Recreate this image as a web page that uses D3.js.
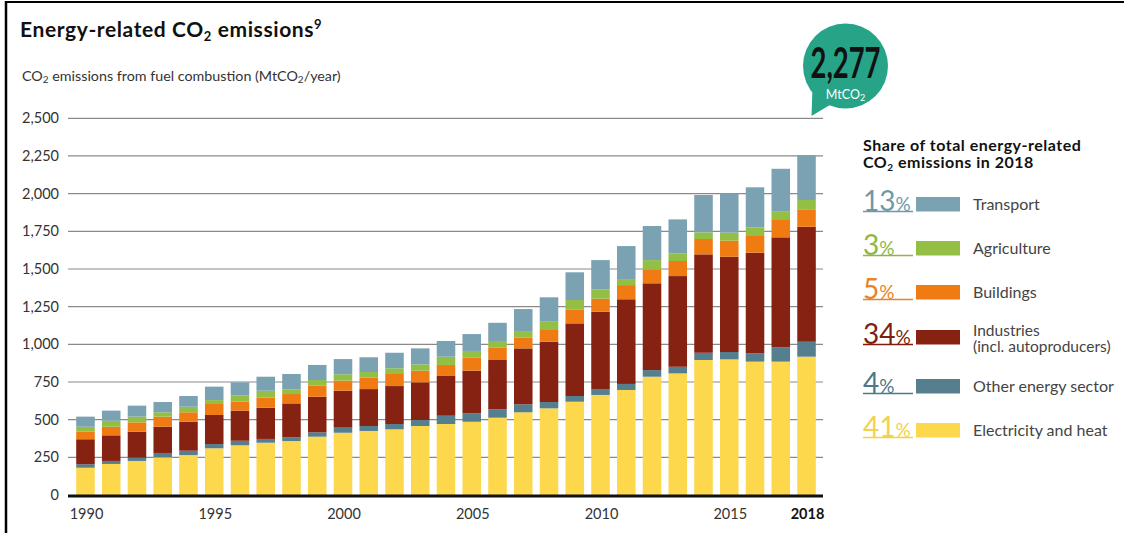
<!DOCTYPE html>
<html>
<head>
<meta charset="utf-8">
<script src="https://cdn.jsdelivr.net/npm/d3@7/dist/d3.min.js"></script>
<style>
  html, body { margin: 0; padding: 0; background: #fff; }
  svg { display: block; }
  text { font-family: "Lato", "Open Sans", "Noto Sans", sans-serif; }
</style>
</head>
<body>
<svg id="chart" width="1124" height="533"></svg>
<script>
// ---------- DATA ----------
const years = [1990,1991,1992,1993,1994,1995,1996,1997,1998,1999,2000,2001,2002,2003,2004,2005,2006,2007,2008,2009,2010,2011,2012,2013,2014,2015,2016,2017,2018];
const electricity = [181,206,226,250,265,310,330,347,358,387,413,425,436,458,471,486,513,549,575,619,664,697,785,807,896,900,885,885,918];
const otherEnergy = [23,20,22,29,29,28,30,25,25,29,34,33,35,40,55,56,56,53,42,38,39,40,44,44,48,49,55,95,99];
const industries  = [166,170,172,174,192,193,200,207,225,236,245,245,252,250,264,283,327,371,400,482,513,562,576,602,653,632,668,730,763];
const buildings   = [50,57,62,67,63,73,59,67,62,73,67,75,80,77,73,86,81,73,78,93,87,94,93,100,102,107,111,115,116];
const agriculture = [33,40,38,29,37,26,43,46,31,38,42,38,38,42,55,45,45,42,55,62,62,40,61,51,44,53,57,55,62];
const transport   = [67,67,73,68,71,89,86,93,102,100,101,98,103,106,104,112,121,146,162,184,194,219,226,225,248,261,266,285,298];

const seriesKeys   = ["electricity","otherEnergy","industries","buildings","agriculture","transport"];
const seriesColors = ["#fdd84c","#557f8e","#862211","#ef7b12","#93bf45","#7aa2b2"];

const yTicks = [0,250,500,750,1000,1250,1500,1750,2000,2250,2500];
const xTickLabels = [1990,1995,2000,2005,2010,2015,2018];

const totalLabel = "2,277";
const legendLabels = [["Transport"],["Agriculture"],["Buildings"],["Industries","(incl. autoproducers)"],["Other energy sector"],["Electricity and heat"]];
const legendShares = [13,3,5,34,4,41];
const legendSeries = ["transport","agriculture","buildings","industries","otherEnergy","electricity"];
const shareColors  = ["#6f99a9","#8cb843","#ea8229","#7b1f10","#4e7787","#f2d24a"];

// ---------- BUILD ----------
const svg = d3.select("#chart");
const table = years.map((y,i) => ({year:y, electricity:electricity[i], otherEnergy:otherEnergy[i], industries:industries[i], buildings:buildings[i], agriculture:agriculture[i], transport:transport[i]}));
const colorOf = d3.scaleOrdinal().domain(seriesKeys).range(seriesColors);

// frame
svg.append("line").attr("x1",6).attr("x2",6).attr("y1",1).attr("y2",533).attr("stroke","#000").attr("stroke-width",2.5);
svg.append("line").attr("x1",5).attr("x2",1124).attr("y1",2).attr("y2",2).attr("stroke","#000").attr("stroke-width",2);

// title
const title = svg.append("text").attr("x",20).attr("y",37).attr("font-size",21).attr("font-weight","bold")
  .attr("letter-spacing",0.6).attr("fill","#111");
title.append("tspan").text("Energy-related CO");
title.append("tspan").text("2").attr("font-size",13).attr("dy",4);
title.append("tspan").text(" emissions").attr("dy",-4);
title.append("tspan").text("9").attr("font-size",13).attr("dy",-8);

const sub = svg.append("text").attr("x",22).attr("y",81).attr("font-size",14.3).attr("fill","#333");
sub.append("tspan").text("CO");
sub.append("tspan").text("2").attr("font-size",10).attr("dy",2);
sub.append("tspan").text(" emissions from fuel combustion (MtCO").attr("dy",-2);
sub.append("tspan").text("2").attr("font-size",10).attr("dy",2);
sub.append("tspan").text("/year)").attr("dy",-2);

// scales
const x = d3.scaleBand().domain(years).range([72.6, 819.4]).paddingInner(0.28).paddingOuter(0.14);
const y = d3.scaleLinear().domain([0,2500]).range([495, 118.3]);

// gridlines
svg.append("g").selectAll("line").data(yTicks.filter(t=>t>0)).join("line")
  .attr("x1",68).attr("x2",823).attr("y1",d=>y(d)).attr("y2",d=>y(d))
  .attr("stroke","#8a8a8a").attr("stroke-width",1.2);

// y axis labels
const yAxis = d3.axisLeft(y).tickValues(yTicks).tickFormat(d3.format(",")).tickSize(0).tickPadding(0);
const yg = svg.append("g").attr("transform","translate(59,0)").call(yAxis);
yg.select(".domain").remove();
yg.selectAll("text").attr("font-size",14.5).attr("fill","#333").attr("font-family","Lato, 'Open Sans', sans-serif");

// bars
const stack = d3.stack().keys(seriesKeys);
const stacked = stack(table);
svg.append("g").selectAll("g").data(stacked).join("g")
  .attr("fill", d => colorOf(d.key))
  .selectAll("rect").data(d => d).join("rect")
  .attr("x", d => x(d.data.year))
  .attr("width", x.bandwidth())
  .attr("y", d => y(d[1]))
  .attr("height", d => y(d[0]) - y(d[1]));

// baseline
svg.append("line").attr("x1",68).attr("x2",823).attr("y1",y(0)+1).attr("y2",y(0)+1).attr("stroke","#111").attr("stroke-width",3);

// x axis labels
const xAxis = d3.axisBottom(x).tickValues(xTickLabels).tickSize(0).tickPadding(0);
const xg = svg.append("g").attr("transform",`translate(1,${y(0)+14})`).call(xAxis);
xg.select(".domain").remove();
xg.selectAll("text").attr("font-size",14.5).attr("font-family","Lato, 'Open Sans', sans-serif")
  .attr("font-weight", d => d===2018 ? "bold" : "normal").attr("fill", d => d===2018 ? "#111" : "#333");

// bubble
const bx = 845.5, by = 66, br = 42.5;
const bubble = svg.append("g");
bubble.append("path")
  .attr("d", `M${bx-33},${by+22} L${bx-34},${by+50} L${bx-14},${by+38} Z`)
  .attr("fill","#27a487");
bubble.append("circle").attr("cx",bx).attr("cy",by).attr("r",br).attr("fill","#27a487");
bubble.append("text").attr("x",bx).attr("y",by+12).attr("text-anchor","middle")
  .attr("font-family","'Liberation Sans Narrow','DejaVu Sans Condensed',sans-serif")
  .attr("font-weight","bold").attr("font-size",42).attr("fill","#111")
  .attr("textLength",70).attr("lengthAdjust","spacingAndGlyphs").text(totalLabel);
const mt = bubble.append("text").attr("x",bx).attr("y",by+33).attr("text-anchor","middle")
  .attr("font-size",12.5).attr("fill","#fff");
mt.append("tspan").text("MtCO");
mt.append("tspan").text("2").attr("font-size",9).attr("dy",2);

// legend
const lx = 863;
const lt = svg.append("text").attr("x",lx).attr("y",151).attr("font-size",16).attr("font-weight","bold")
  .attr("letter-spacing",0.5).attr("fill","#111");
lt.text("Share of total energy-related");
const lt2 = svg.append("text").attr("x",lx).attr("y",168).attr("font-size",16).attr("font-weight","bold")
  .attr("letter-spacing",0.5).attr("fill","#111");
lt2.append("tspan").text("CO");
lt2.append("tspan").text("2").attr("font-size",10).attr("dy",3);
lt2.append("tspan").text(" emissions in 2018").attr("dy",-3);

const rowTops = [197,241,285,330,379,423];
const lg = svg.append("g");
legendSeries.forEach((k,i) => {
  const t = rowTops[i];
  lg.append("rect").attr("x",916).attr("y",t).attr("width",44).attr("height",14.5).attr("fill",colorOf(k));
  const pt = lg.append("text").attr("x",lx).attr("y",t+13.5).attr("fill",shareColors[i])
    .attr("font-family","'Liberation Sans Narrow','DejaVu Sans Condensed',sans-serif").attr("font-size",28);
  pt.append("tspan").text(legendShares[i]);
  pt.append("tspan").text("%").attr("font-size",19);
  lg.append("line").attr("x1",lx).attr("x2",913).attr("y1",t+14.5).attr("y2",t+14.5).attr("stroke",shareColors[i]).attr("stroke-width",1.5);
  const labs = legendLabels[i];
  labs.forEach((s,j) => {
    lg.append("text").attr("x",973).attr("y", labs.length===1 ? t+13 : t+6 + j*16)
      .attr("font-size", labs.length===1 ? 16 : 15.5).attr("fill","#444").text(s);
  });
});
</script>
</body>
</html>
